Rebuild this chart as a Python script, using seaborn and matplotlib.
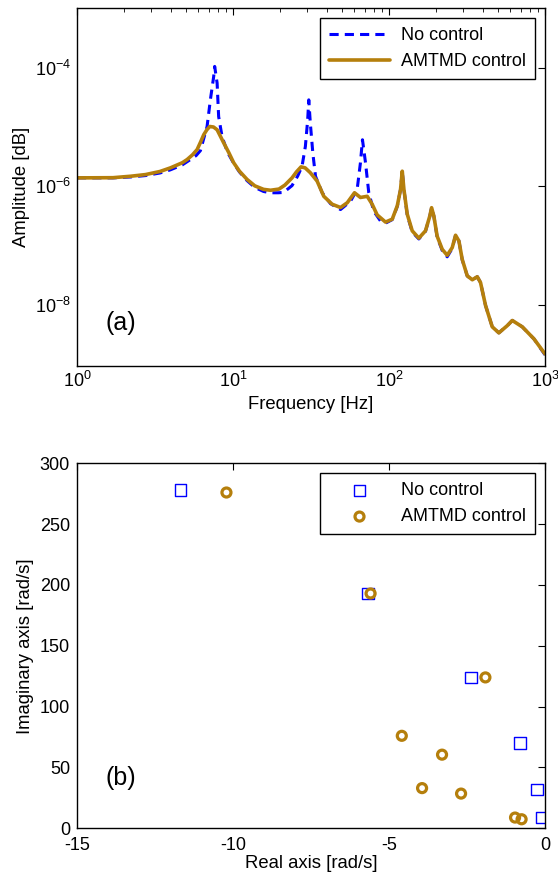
import numpy as np
import pandas as pd
import matplotlib
matplotlib.use("Agg")
import matplotlib.pyplot as plt
import seaborn as sns
from matplotlib.ticker import LogLocator, NullFormatter

# ---------------- data: (a) frequency response ----------------
freq_amtmd = [1, 1.7, 2.2, 2.75, 3.4, 3.97, 4.73, 5.08, 5.5, 5.89, 6.2, 6.49, 6.8, 7.1,
              7.5, 7.91, 8.3, 8.72, 9.4, 10.1, 11.0, 12.3, 13.8, 15.7, 17.4, 19.7, 21.5,
              23.9, 25.5, 27.3, 29.0, 31.3, 34.6, 38.2, 43.2, 48.9, 54.0, 60.1, 65.6,
              72.5, 78.0, 84.0, 95.0, 104.9, 113.0, 118.6, 121.6, 124.6, 130.9, 140.9,
              155.3, 171.3, 182.7, 187.5, 193.8, 203.5, 219.4, 236.1, 254.3, 267.1,
              280.7, 294.6, 317.5, 342, 368, 386, 416, 459, 506, 573, 617, 715, 849, 1000]
amp_amtmd = [1.39e-6, 1.40e-6, 1.48e-6, 1.58e-6, 1.78e-6, 2.05e-6, 2.5e-6, 2.83e-6, 3.4e-6,
             4.17e-6, 5.6e-6, 7.4e-6, 9.0e-6, 1.02e-5, 1.0e-5, 9.0e-6, 7.0e-6, 5.4e-6,
             3.7e-6, 2.5e-6, 1.8e-6, 1.31e-6, 1.02e-6, 8.9e-7, 8.6e-7, 9.0e-7, 1.05e-6,
             1.39e-6, 1.75e-6, 2.13e-6, 2.05e-6, 1.70e-6, 1.23e-6, 6.8e-7, 5.0e-7, 4.4e-7,
             5.3e-7, 7.8e-7, 6.5e-7, 6.8e-7, 5.0e-7, 3.3e-7, 2.5e-7, 2.8e-7, 4.7e-7, 8.9e-7,
             1.8e-6, 8.9e-7, 3.4e-7, 1.78e-7, 1.34e-7, 1.78e-7, 3.17e-7, 4.37e-7, 3.17e-7,
             1.45e-7, 8.7e-8, 6.9e-8, 9.3e-8, 1.5e-7, 1.2e-7, 5.9e-8, 3.1e-8, 2.67e-8,
             3.0e-8, 2.4e-8, 9.8e-9, 4.3e-9, 3.4e-9, 4.5e-9, 5.5e-9, 4.3e-9, 2.7e-9, 1.5e-9]

freq_noctrl = [1, 1.7, 2.2, 2.75, 3.4, 3.97, 4.73, 5.33, 5.8, 6.18, 6.82, 7.16, 7.52, 7.63,
               7.91, 8.09, 8.51, 9.2, 10.1, 11.0, 12.3, 13.8, 15.7, 17.4, 19.5, 21.1, 23.9,
               26.0, 27.7, 29.1, 30.1, 30.6, 31.3, 32.5, 33.8, 37.3, 42.2, 48.9, 56.6, 62.5,
               65.6, 67.6, 70.7, 74.2, 79.9, 88.3, 95.0, 104.9, 113.0, 118.6, 121.6, 124.6,
               130.9, 140.9, 155.3, 171.3, 182.7, 187.5, 193.8, 203.5, 219.4, 236.1, 254.3,
               267.1, 280.7, 294.6, 317.5, 342, 368, 386, 416, 459, 506, 573, 617, 715, 849, 1000]
amp_noctrl = [1.39e-6, 1.39e-6, 1.44e-6, 1.52e-6, 1.68e-6, 1.9e-6, 2.3e-6, 2.83e-6, 3.3e-6,
              4.0e-6, 1.02e-5, 2.87e-5, 7.1e-5, 1.05e-4, 5.5e-5, 1.5e-5, 6.9e-6, 3.8e-6,
              2.45e-6, 1.75e-6, 1.25e-6, 9.6e-7, 8.2e-7, 7.8e-7, 7.8e-7, 7.9e-7, 1.03e-6,
              1.5e-6, 2.18e-6, 4.7e-6, 1.31e-5, 2.87e-5, 1.17e-5, 3.6e-6, 1.48e-6, 7.8e-7,
              5.1e-7, 4.07e-7, 5.6e-7, 8.9e-7, 2.5e-6, 6.1e-6, 2.5e-6, 7.8e-7, 3.8e-7,
              2.6e-7, 2.4e-7, 2.75e-7, 4.6e-7, 8.9e-7, 1.8e-6, 8.9e-7, 3.3e-7, 1.7e-7,
              1.3e-7, 1.75e-7, 3.17e-7, 4.37e-7, 3.17e-7, 1.4e-7, 8.3e-8, 6.5e-8, 9.0e-8,
              1.5e-7, 1.2e-7, 5.8e-8, 3.1e-8, 2.65e-8, 3.0e-8, 2.4e-8, 9.8e-9, 4.3e-9,
              3.4e-9, 4.5e-9, 5.5e-9, 4.3e-9, 2.7e-9, 1.45e-9]

# ---------------- data: (b) poles ----------------
re_noctrl = [-11.68, -5.68, -2.37, -0.80, -0.25, -0.11]
im_noctrl = [278, 193, 124, 70, 32, 8.8]
re_amtmd = [-10.21, -5.59, -1.91, -4.59, -3.30, -3.94, -2.69, -0.96, -0.75]
im_amtmd = [276, 193, 124, 76, 60.5, 33, 28.5, 8.8, 7.4]

labels = ["No control", "AMTMD control"]
x_ticks_b = [-15, -10, -5, 0]
y_ticks_b = [0, 50, 100, 150, 200, 250, 300]
y_ticks_a = [1e-8, 1e-6, 1e-4]

BLUE = "#0000FF"
BROWN = "#B57F0C"

sns.set_style("white")
plt.rcParams["font.family"] = ["Liberation Sans", "DejaVu Sans"]
plt.rcParams["mathtext.fontset"] = "custom"
plt.rcParams["mathtext.rm"] = "Liberation Sans"
plt.rcParams["mathtext.it"] = "Liberation Sans:italic"
plt.rcParams["axes.unicode_minus"] = False
plt.rcParams["axes.edgecolor"] = "black"
plt.rcParams["axes.linewidth"] = 1.0
plt.rcParams["text.color"] = "black"
plt.rcParams["axes.labelcolor"] = "black"
plt.rcParams["xtick.color"] = "black"
plt.rcParams["ytick.color"] = "black"

fig = plt.figure(figsize=(5.58, 8.76), dpi=100)
ax1 = fig.add_axes([0.138, 0.5825, 0.8387, 0.408])
ax2 = fig.add_axes([0.138, 0.0545, 0.8387, 0.4166])

FS = 13.3
TFS = 13

# ---- (a)
df_nc = pd.DataFrame({"f": freq_noctrl, "a": amp_noctrl})
df_am = pd.DataFrame({"f": freq_amtmd, "a": amp_amtmd})
sns.lineplot(data=df_nc, x="f", y="a", ax=ax1, color=BLUE, linewidth=2.2,
             linestyle=(0, (3, 2)), sort=False, estimator=None, label=labels[0])
sns.lineplot(data=df_am, x="f", y="a", ax=ax1, color=BROWN, linewidth=2.6,
             sort=False, estimator=None, label=labels[1])
ax1.set_xscale("log")
ax1.set_yscale("log")
ax1.set_xlim(1, 1000)
ax1.set_ylim(9.5e-10, 1e-3)
ax1.set_yticks(y_ticks_a)
ax1.yaxis.set_minor_locator(plt.NullLocator())
ax1.xaxis.set_minor_locator(LogLocator(base=10, subs=np.arange(2, 10)))
ax1.xaxis.set_minor_formatter(NullFormatter())
ax1.set_xlabel("Frequency [Hz]", fontsize=FS, labelpad=3)
ax1.set_ylabel("Amplitude [dB]", fontsize=FS)
ax1.text(0.094, 0.12, "(a)", transform=ax1.transAxes, fontsize=18, ha="center", va="center")
leg1 = ax1.legend(loc="upper right", fontsize=13, frameon=True, fancybox=False,
                  edgecolor="black", framealpha=1, handlelength=3.4, borderaxespad=0.55,
                  borderpad=0.5, labelspacing=0.5, handletextpad=0.6)
leg1.get_frame().set_linewidth(1.0)

# ---- (b)
sns.scatterplot(x=re_noctrl, y=im_noctrl, ax=ax2, marker="s", s=70, facecolors="none",
                edgecolors=BLUE, linewidth=1.0, label=labels[0])
sns.scatterplot(x=re_amtmd, y=im_amtmd, ax=ax2, marker="o", s=42, facecolors="none",
                edgecolors=BROWN, linewidth=2.3, label=labels[1])
ax2.set_xlim(-15, 0)
ax2.set_ylim(0, 300)
ax2.set_xticks(x_ticks_b)
ax2.set_yticks(y_ticks_b)
ax2.set_xlabel("Real axis [rad/s]", fontsize=FS, labelpad=1)
ax2.set_ylabel("Imaginary axis [rad/s]", fontsize=FS)
ax2.text(0.094, 0.137, "(b)", transform=ax2.transAxes, fontsize=18, ha="center", va="center")
leg2 = ax2.legend(loc="upper right", fontsize=13, frameon=True, fancybox=False,
                  edgecolor="black", framealpha=1, handlelength=3.4, borderaxespad=0.55,
                  borderpad=0.5, labelspacing=0.5, handletextpad=0.6)
leg2.get_frame().set_linewidth(1.0)

for ax in (ax1, ax2):
    ax.tick_params(which="major", direction="in", length=5, width=0.8, top=True, right=True,
                   labelsize=TFS, colors="black", pad=4)
    ax.tick_params(which="minor", direction="in", length=3, width=0.6, top=True, right=True)
    for sp in ax.spines.values():
        sp.set_visible(True)
        sp.set_color("black")
        sp.set_linewidth(1.0)
    ax.grid(False)
ax2.tick_params(axis="x", which="major", pad=6)
ax2.tick_params(axis="y", which="major", pad=5)

fig.savefig("out.png", dpi=100)
